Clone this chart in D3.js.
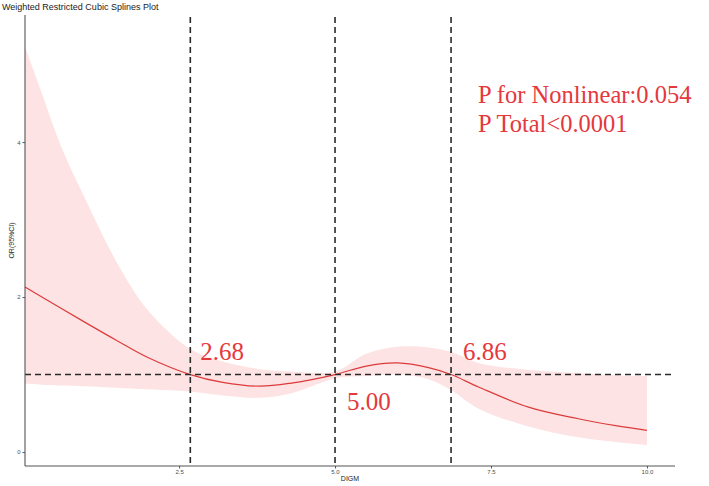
<!DOCTYPE html>
<html>
<head>
<meta charset="utf-8">
<script src="https://cdn.jsdelivr.net/npm/d3@7"></script>
<style>
  html, body { margin: 0; padding: 0; background: #fff; }
  svg { display: block; }
</style>
</head>
<body>
<svg id="chart" width="709" height="486"></svg>
<script>
// ---- data ----
const xValues = [0.03, 0.3, 0.6, 1.0, 1.5, 2.0, 2.68, 3.2, 3.8, 4.3, 5.0, 5.5, 6.0, 6.5, 6.86, 7.3, 8.1, 8.9, 9.5, 10.0];
const orValues = [2.13, 2.00, 1.86, 1.67, 1.44, 1.22, 1.00, 0.90, 0.85, 0.89, 1.00, 1.11, 1.15, 1.09, 1.00, 0.84, 0.58, 0.43, 0.34, 0.28];
const upperCI = [5.23, 4.63, 3.96, 3.26, 2.45, 1.83, 1.33, 1.17, 1.07, 1.04, 1.04, 1.27, 1.36, 1.35, 1.29, 1.15, 1.06, 1.02, 0.99, 0.98];
const lowerCI = [0.88, 0.87, 0.86, 0.85, 0.83, 0.81, 0.78, 0.73, 0.70, 0.76, 0.95, 0.98, 1.00, 0.94, 0.80, 0.56, 0.33, 0.19, 0.13, 0.09];
const knots = [2.68, 5.00, 6.86];
const knotLabels = ["2.68", "5.00", "6.86"];
const refOR = 1;
const xTicks = [2.5, 5.0, 7.5, 10.0];
const yTicks = [0, 2, 4];
const pTexts = ["P for Nonlinear:0.054", "P Total<0.0001"];
const titleText = "Weighted Restricted Cubic Splines Plot";
const xLabel = "DIGM";
const yLabel = "OR(95%CI)";

(function () {
const data = xValues.map((v, i) => ({ x: v, y: orValues[i], lo: lowerCI[i], hi: upperCI[i] }));

const svg = d3.select("#chart");
const pLeft = 25, pRight = 675, pTop = 15, pBottom = 466;

const x = d3.scaleLinear().domain([0.03, 10.45]).range([pLeft, pRight]);
const y = d3.scaleLinear().domain([-0.18, 5.64]).range([pBottom, pTop]);
const curve = d3.curveCatmullRom.alpha(0.5);

// ribbon
svg.append("path")
  .datum(data)
  .attr("fill", "#fde3e3")
  .attr("d", d3.area().x(d => x(d.x)).y0(d => y(d.lo)).y1(d => y(d.hi)).curve(curve));

// line
svg.append("path")
  .datum(data)
  .attr("fill", "none")
  .attr("stroke", "#dc3b3b")
  .attr("stroke-width", 1.2)
  .attr("d", d3.line().x(d => x(d.x)).y(d => y(d.y)).curve(curve));

// dashed reference lines
svg.append("line")
  .attr("x1", pLeft).attr("x2", pRight)
  .attr("y1", y(refOR)).attr("y2", y(refOR))
  .attr("stroke", "#2a2a2a").attr("stroke-width", 1.6).attr("stroke-dasharray", "6,4");

svg.selectAll(".knot").data(knots).enter().append("line")
  .attr("x1", d => x(d)).attr("x2", d => x(d))
  .attr("y1", pTop + 2).attr("y2", pBottom)
  .attr("stroke", "#2a2a2a").attr("stroke-width", 1.6).attr("stroke-dasharray", "6,4");

// axes
const xAxis = d3.axisBottom(x).tickValues(xTicks).tickFormat(d3.format(".1f")).tickSize(2.5).tickPadding(1.5);
const gx = svg.append("g").attr("transform", `translate(0,${pBottom})`).call(xAxis);
const yAxis = d3.axisLeft(y).tickValues(yTicks).tickFormat(d3.format("d")).tickSize(2.5).tickPadding(2);
const gy = svg.append("g").attr("transform", `translate(${pLeft},0)`).call(yAxis);

[gx, gy].forEach(g => {
  g.select(".domain").attr("stroke", "#555").attr("stroke-width", 1.1);
  g.selectAll(".tick line").attr("stroke", "#555");
  g.selectAll(".tick text").attr("fill", "#4d4d4d").style("font-family", "Liberation Sans, Arial, sans-serif").style("font-size", "6px");
});
gx.select(".domain").attr("d", `M${pLeft},0H${pRight}`);
gy.select(".domain").attr("d", `M0,${pBottom}V${pTop}`);

// axis titles
svg.append("text")
  .attr("x", (pLeft + pRight) / 2).attr("y", 481)
  .attr("text-anchor", "middle")
  .style("font-family", "Liberation Sans, Arial, sans-serif").style("font-size", "7px").attr("fill", "#222")
  .text(xLabel);

svg.append("text")
  .attr("transform", `translate(14,${(pTop + pBottom) / 2}) rotate(-90)`)
  .attr("text-anchor", "middle")
  .style("font-family", "Liberation Sans, Arial, sans-serif").style("font-size", "7px").attr("fill", "#222")
  .text(yLabel);

// title
svg.append("text")
  .attr("x", 2).attr("y", 10)
  .style("font-family", "Liberation Sans, Arial, sans-serif").style("font-size", "9px").attr("fill", "#222")
  .text(titleText);

// knot labels
const redText = "#e5383c";
const serif = "Liberation Serif, Times New Roman, serif";
const knotLabelPos = [{ dx: 10, yv: 360 }, { dx: 12, yv: 410 }, { dx: 12, yv: 360 }];
svg.selectAll(".klab").data(knots).enter().append("text")
  .attr("x", (d, i) => x(d) + knotLabelPos[i].dx)
  .attr("y", (d, i) => knotLabelPos[i].yv)
  .style("font-family", serif).style("font-size", "25px").attr("fill", redText)
  .text((d, i) => knotLabels[i]);

// p-values
svg.selectAll(".ptext").data(pTexts).enter().append("text")
  .attr("x", 478).attr("y", (d, i) => 103 + i * 29)
  .style("font-family", serif).style("font-size", "24.5px").attr("fill", redText)
  .text(d => d);
})();
</script>
</body>
</html>
